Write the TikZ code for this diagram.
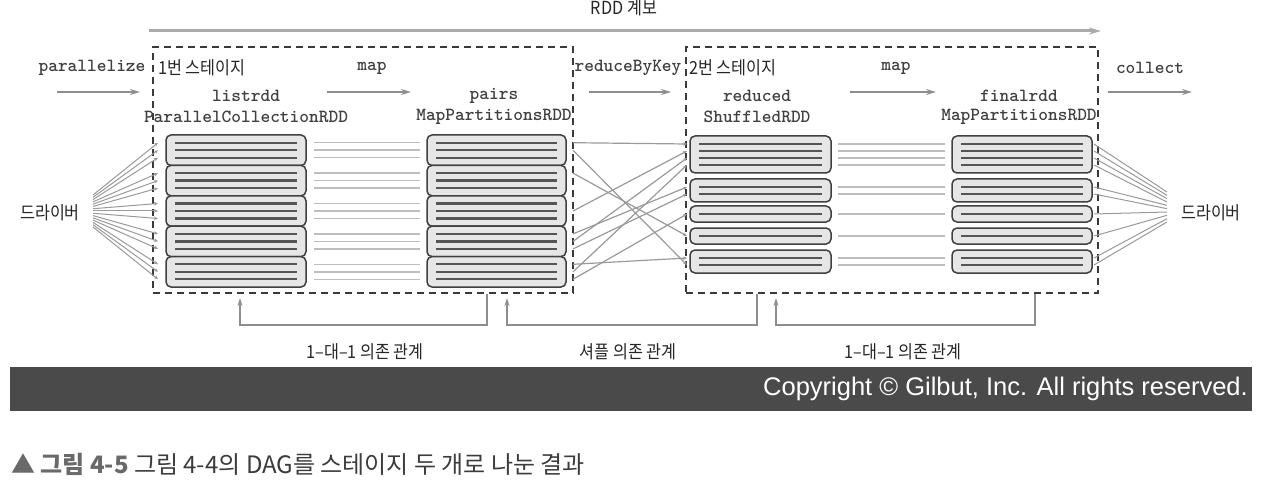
\documentclass[tikz,border=0pt]{standalone}
\usepackage{fontspec}
\setmainfont{Liberation Sans}
\newfontfamily\kr[FakeStretch=0.9]{Noto Sans CJK KR}
\newfontfamily\krn{Noto Sans CJK KR}
\usetikzlibrary{arrows.meta}
\definecolor{dashc}{HTML}{3A3A3A}
\definecolor{arrc}{HTML}{8E8E8E}
\definecolor{toparr}{HTML}{AAAAAA}
\definecolor{connc}{HTML}{BDBDBD}
\definecolor{fanc}{HTML}{9A9A9A}
\definecolor{pfill}{HTML}{E6E6E6}
\definecolor{pline}{HTML}{555555}
\definecolor{barc}{HTML}{4A4A4A}
\definecolor{capa}{HTML}{6A6A6A}
\definecolor{capb}{HTML}{3C3C3C}
\begin{document}
\begin{tikzpicture}[x=1pt,y=-1pt,
  part/.style={draw=black!75, line width=1.5pt, fill=pfill, rounded corners=5pt, inner sep=0pt, outer sep=0pt},
  inl/.style={draw=pline, line width=2.2pt},
  conn/.style={draw=connc, line width=1.6pt},
  fan/.style={draw=fanc, line width=1pt, -{Stealth[length=4pt,width=3.5pt]}},
  fanr/.style={draw=fanc, line width=1pt},
  shuf/.style={draw=fanc, line width=1.2pt, -{Stealth[length=4pt,width=3.5pt]}},
  garr/.style={draw=arrc, line width=1.6pt, -{Stealth[length=10pt,width=6pt]}},
  brk/.style={draw=arrc, line width=1.3pt, -{Stealth[length=8pt,width=5pt]}},
  stage/.style={draw=dashc, line width=2.2pt, dash pattern=on 7pt off 5pt, inner sep=0pt},
  mono/.style={font={\fontsize{18.5}{20}\ttfamily\bfseries}, text=black!75, inner sep=0pt},
  krl/.style={font={\fontsize{18}{20}\kr}, text=black!85, inner sep=0pt},
]
\useasboundingbox (0,0) rectangle (1270,484);
\fill[white] (0,0) rectangle (1270,484);

% top lineage arrow
\node[krl] (rddlbl) at (624,8) {RDD 계보};
\coordinate (top1) at (149,31);
\coordinate (top2) at (1101,31);
\draw[draw=toparr, line width=3pt, -{Stealth[length=12pt,width=7pt]}] (top1) -- (top2);

% stage boxes
\node[stage, minimum width=420pt, minimum height=246pt] (st1) at (363,170) {};
\node[stage, minimum width=412pt, minimum height=246pt] (st2) at (892,170) {};

% row labels
\node[mono] (par) at (92,68) {parallelize};
\node[krl, anchor=west] (s1) at (158,68) {1번 스테이지};
\node[mono] (map1) at (372,68) {map};
\node[mono] (rbk) at (628,68) {reduceByKey};
\node[krl, anchor=west] (s2) at (689,68) {2번 스테이지};
\node[mono] (map2) at (896,68) {map};
\node[mono] (col) at (1150,68) {collect};

% operation arrows
\coordinate (pa1) at (57,92);  \coordinate (pa2) at (140,92);
\coordinate (ma1) at (327,92); \coordinate (ma2) at (411,92);
\coordinate (ra1) at (589,92); \coordinate (ra2) at (671,92);
\coordinate (mb1) at (850,92); \coordinate (mb2) at (936,92);
\coordinate (ca1) at (1108,92); \coordinate (ca2) at (1192,92);
\draw[garr] (pa1) -- (pa2);
\draw[garr] (ma1) -- (ma2);
\draw[garr] (ra1) -- (ra2);
\draw[garr] (mb1) -- (mb2);
\draw[garr] (ca1) -- (ca2);

% RDD names
\node[mono] (n1) at (246,96) {listrdd};
\node[mono] (t1) at (246,117) {ParallelCollectionRDD};
\node[mono] (n2) at (494,96) {pairs};
\node[mono] (t2) at (494,117) {MapPartitionsRDD};
\node[mono] (n3) at (757,96) {reduced};
\node[mono] (t3) at (757,117) {ShuffledRDD};
\node[mono] (n4) at (1019,96) {finalrdd};
\node[mono] (t4) at (1019,117) {MapPartitionsRDD};

% drivers
\node[krl] (drvL) at (50,213) {드라이버};
\node[krl] (drvR) at (1211,213) {드라이버};

% stage 1 partitions
\foreach \r/\cy in {1/150.2,2/180.6,3/211,4/241.4,5/271.8} {
  \node[part, minimum width=140pt, minimum height=30.4pt] (a\r) at (236,\cy) {};
  \node[part, minimum width=139pt, minimum height=30.4pt] (b\r) at (496.5,\cy) {};
}
\foreach \r in {1,...,5} {
  \foreach \k/\dy in {1/7.5,2/0,3/-7.5} {
    \draw[inl] ([xshift=9pt,yshift=\dy pt]a\r.west) -- ([xshift=-9pt,yshift=\dy pt]a\r.east);
    \draw[inl] ([xshift=9pt,yshift=\dy pt]b\r.west) -- ([xshift=-9pt,yshift=\dy pt]b\r.east);
    \coordinate (al\r\k) at ([xshift=-8pt,yshift=\dy pt]a\r.west);
    \coordinate (ar\r\k) at ([xshift=8pt,yshift=\dy pt]a\r.east);
    \coordinate (bl\r\k) at ([xshift=-7pt,yshift=\dy pt]b\r.west);
    \coordinate (br\r\k) at ([xshift=7pt,yshift=\dy pt]b\r.east);
    \draw[conn] (ar\r\k) -- (bl\r\k);
    \pgfmathsetmacro\fy{195+((\r-1)*3+\k-1)*32/14}
    \coordinate (fo\r\k) at (93,\fy);
    \draw[fan] (fo\r\k) -- (al\r\k);
  }
}

% stage 2 partitions
\foreach \n/\cy/\h in {1/154.5/37,2/190.5/23,3/214/16,4/236/16,5/261.5/23} {
  \node[part, minimum width=141pt, minimum height=\h pt] (c\n) at (760.5,\cy) {};
  \node[part, minimum width=140pt, minimum height=\h pt] (d\n) at (1022,\cy) {};
}
\foreach \i/\n/\dy in {1/1/10.5,2/1/3.5,3/1/-3.5,4/1/-10.5,5/2/3.5,6/2/-3.5,7/3/0,8/4/0,9/5/3.5,10/5/-3.5} {
  \draw[inl] ([xshift=9pt,yshift=\dy pt]c\n.west) -- ([xshift=-9pt,yshift=\dy pt]c\n.east);
  \draw[inl] ([xshift=9pt,yshift=\dy pt]d\n.west) -- ([xshift=-9pt,yshift=\dy pt]d\n.east);
  \coordinate (cl\i) at ([xshift=-3pt,yshift=\dy pt]c\n.west);
  \coordinate (cr\i) at ([xshift=7pt,yshift=\dy pt]c\n.east);
  \coordinate (dl\i) at ([xshift=-7pt,yshift=\dy pt]d\n.west);
  \coordinate (dr\i) at ([xshift=2pt,yshift=\dy pt]d\n.east);
  \draw[conn] (cr\i) -- (dl\i);
  \pgfmathsetmacro\gy{192+(\i-1)*30/9}
  \coordinate (go\i) at (1167,\gy);
  \draw[fanr] (dr\i) -- (go\i);
}

% shuffle dependencies
\foreach \s/\t in {11/1,12/10,21/8,32/2,41/5,42/3,43/6,51/9,52/4,53/7} {
  \draw[shuf] (br\s) -- (cl\t);
}

% dependency brackets
\coordinate (u1) at (240,298); \coordinate (u1b) at (240,325); \coordinate (u1c) at (487,325); \coordinate (u1d) at (487,294);
\coordinate (u2) at (507,298); \coordinate (u2b) at (507,325); \coordinate (u2c) at (757,325); \coordinate (u2d) at (757,294);
\coordinate (u3) at (776,298); \coordinate (u3b) at (776,325); \coordinate (u3c) at (1035,325); \coordinate (u3d) at (1035,294);
\draw[brk] (u1d) -- (u1c) -- (u1b) -- (u1);
\draw[brk] (u2d) -- (u2c) -- (u2b) -- (u2);
\draw[brk] (u3d) -- (u3c) -- (u3b) -- (u3);
\node[krl] (dep1) at (365,352) {1–대–1 의존 관계};
\node[krl] (dep2) at (628,352) {셔플 의존 관계};
\node[krl] (dep3) at (903,352) {1–대–1 의존 관계};

% copyright bar
\node[fill=barc, minimum width=1242pt, minimum height=44pt, inner sep=0pt] (bar) at (631,389) {};
\node[anchor=east, text=white, font={\fontsize{25.5}{28}\selectfont}, inner sep=0pt] (copy) at (1248,389) {Copyright © Gilbut, Inc. All rights reserved.};

% caption
\node[anchor=west, inner sep=0pt, font={\fontsize{24}{27}\krn}, text=capb] (cap) at (11,464) {{\color{capa}\bfseries ▲ 그림 4-5} 그림 4-4의 DAG를 스테이지 두 개로 나눈 결과};
\end{tikzpicture}
\end{document}
